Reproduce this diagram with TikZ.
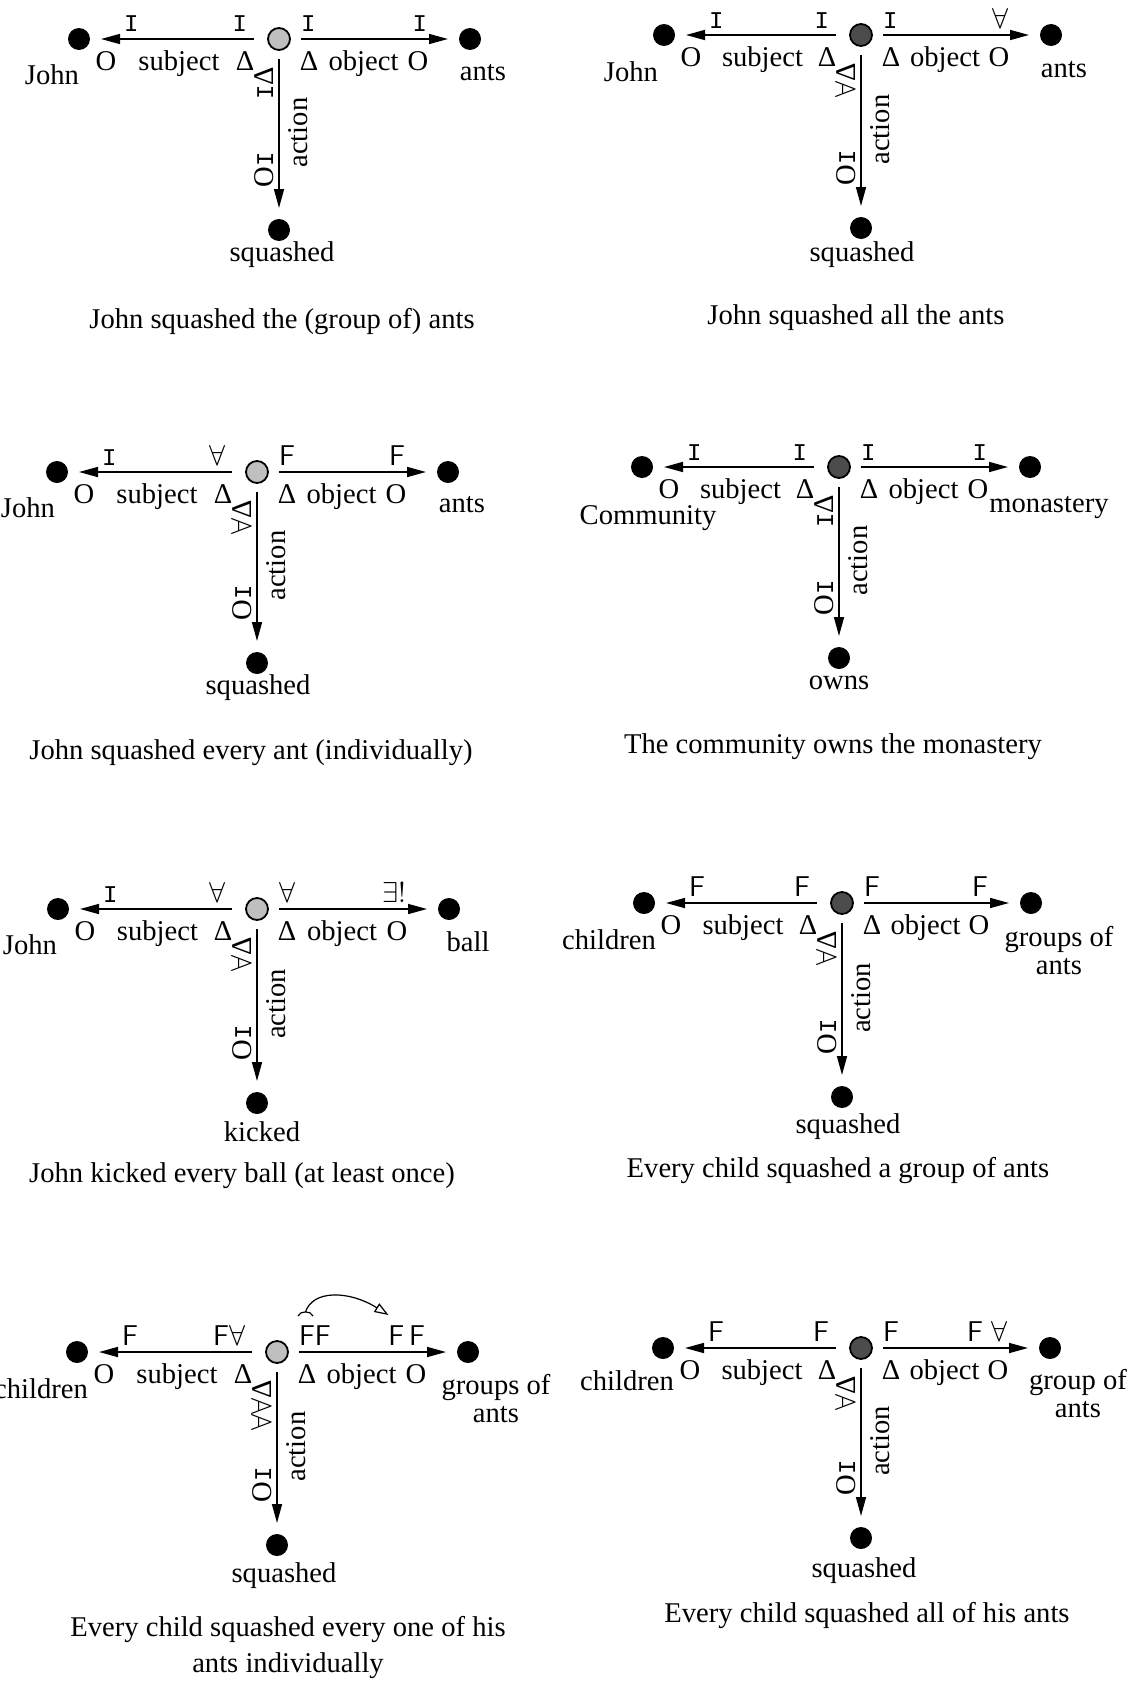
\documentclass[tikz,border=0pt]{standalone}
\usepackage{fontspec}
\setmainfont{Liberation Serif}
\newfontfamily\qmono{Liberation Mono}
\usetikzlibrary{arrows.meta,calc}

\newcommand{\qI}{{\fontsize{12}{12}\selectfont\qmono I}}
\newcommand{\qF}{\textsf{F}}
\newcommand{\qA}{$\forall$}
\newcommand{\qE}{$\exists!$}

\begin{document}
\begin{tikzpicture}[x=0.5pt,y=-0.5pt,
  every node/.style={inner sep=0pt,outer sep=0pt,font=\fontsize{14.3}{14}\selectfont},
  dot/.style={circle,fill=black,minimum size=11pt},
  hub/.style={circle,draw=black,line width=0.9pt,fill=gray!50,minimum size=11pt},
  hubdark/.style={hub,fill=black!70},
  rel/.style={line width=0.8pt,-{Triangle[length=9.5pt,width=5pt]},shorten <=5.5pt,shorten >=5.5pt},
  qs/.style={yshift=3.5pt},
  role/.style={anchor=base,yshift=-15.5pt},
  col/.style={rotate=90},
  word/.style={align=center}]
\useasboundingbox (0,0) rectangle (1146,1681);

% the eight triads: hub, subject, object, action
\foreach \p/\cx/\cy/\lx/\rx/\by/\hs/\sn/\sf/\on/\of/\an in {
  1/279/39/79/470/230/hub/\qI/\qI/\qI/\qI/\qI,
  2/861/35/664/1051/228/hubdark/\qI/\qI/\qI/\qA/\qA,
  3/257/472/57/448/663/hub/\qA/\qI/\qF/\qF/\qA,
  4/839/467/642/1030/658/hubdark/\qI/\qI/\qI/\qI/\qI,
  5/257/909/58/449/1103/hub/\qA/\qI/\qA/\qE/\qA,
  6/842/903/644/1031/1097/hubdark/\qF/\qF/\qF/\qF/\qA,
  7/277/1352/77/468/1545/hub/{\qF\qA}/\qF/{\qF\qF}/{\qF\,\qF}/{\qA\qA},
  8/861/1348/663/1050/1538/hubdark/\qF/\qF/\qF/{\qF\;\qA}/\qA}
{
\node[\hs] (c\p) at (\cx,\cy) {};
\node[dot] (l\p) at (\lx,\cy) {};
\node[dot] (r\p) at (\rx,\cy) {};
\node[dot] (b\p) at (\cx,\by) {};
\draw[rel,shorten <=7pt] (c\p) -- (l\p)
  node[qs,pos=0,anchor=base east,xshift=-10.5pt] {\sn}
  node[qs,pos=1,anchor=base west,xshift=17pt] {\sf}
  node[role,pos=1,xshift=8pt] {O}
  node[role,pos=.5] {subject}
  node[role,pos=0,xshift=-11.5pt] {Δ};
\draw[rel] (c\p) -- (r\p)
  node[qs,pos=0,anchor=base west,xshift=5.5pt] (on\p) {\on}
  node[qs,pos=1,anchor=base east,xshift=-16pt] (of\p) {\of}
  node[role,pos=0,xshift=9.5pt] {Δ}
  node[role,pos=.5,xshift=-5.5pt] {object}
  node[role,pos=1,xshift=-20.5pt] {O};
\draw[rel,shorten <=4.5pt] (c\p) -- (b\p);
\node[col,anchor=base east] (t\p) at ($(c\p)+(-6,28)$) {\an Δ};
\node[col,anchor=base west] (u\p) at ($(b\p)+(-6,-43)$) {O\qI};
\node[col,anchor=base] (a\p) at ($(c\p)!.5!(b\p)+(28,-2)$) {action};
}

% names and captions
\node[word] (w1l) at (52,75) {John};
\node[word] (w1r) at (483,73) {ants};
\node[word] (w1b) at (282,255) {squashed};
\node[word] (s1) at (282,322) {John squashed the (group of) ants};

\node[word] (w2l) at (631,72) {John};
\node[word] (w2r) at (1064,70) {ants};
\node[word] (w2b) at (862,255) {squashed};
\node[word] (s2) at (856,318) {John squashed all the ants};

\node[word] (w3l) at (28,508) {John};
\node[word] (w3r) at (462,505) {ants};
\node[word] (w3b) at (258,688) {squashed};
\node[word] (s3) at (251,753) {John squashed every ant (individually)};

\node[word] (w4l) at (648,518) {Community};
\node[word] (w4r) at (1049,508) {monastery};
\node[word] (w4b) at (839,683) {owns};
\node[word] (s4) at (833,747) {The community owns the monastery};

\node[word] (w5l) at (30,945) {John};
\node[word] (w5r) at (468,942) {ball};
\node[word] (w5b) at (262,1132) {kicked};
\node[word] (s5) at (242,1176) {John kicked every ball (at least once)};

\node[word] (w6l) at (609,940) {children};
\node[word] (w6r) at (1059,951) {groups of\\ants};
\node[word] (w6b) at (848,1127) {squashed};
\node[word] (s6) at (838,1171) {Every child squashed a group of ants};

\node[word] (w7l) at (41,1389) {children};
\node[word] (w7r) at (496,1399) {groups of\\ants};
\node[word] (w7b) at (284,1576) {squashed};
\node[word] (s7) at (288,1647) {Every child squashed every one of his\\[4pt]ants individually};

\node[word] (w8l) at (627,1381) {children};
\node[word] (w8r) at (1078,1394) {group of\\ants};
\node[word] (w8b) at (864,1571) {squashed};
\node[word] (s8) at (867,1615) {Every child squashed all of his ants};

% the hop from one FF to the other
\coordinate (k1) at ($(on7.base west)+(-1,-29)$);
\coordinate (k2) at ($(on7.base west)+(14,-29)$);
\draw[line width=0.6pt] (k1) to[bend left=70] (k2);
\coordinate (k3) at ($(k1)!.5!(k2)+(0,-4)$);
\coordinate (k4) at ($(of7.base west)+(0,-30)$);
\draw[line width=0.6pt,-{Triangle[open,length=7pt,width=5pt]}] (k3) .. controls ($(k3)+(7,-22)$) and ($(k4)+(-40,-25)$) .. (k4);
\end{tikzpicture}
\end{document}
